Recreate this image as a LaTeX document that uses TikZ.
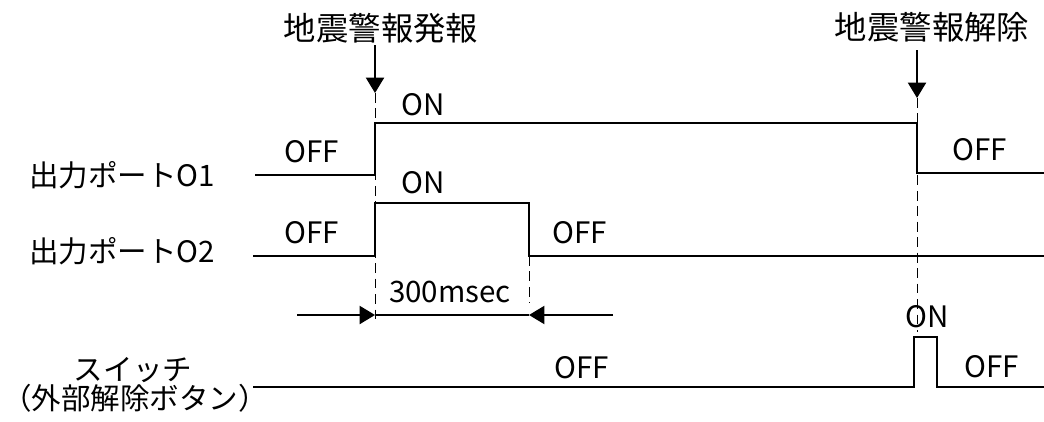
\documentclass[tikz,border=0pt]{standalone}
\usepackage{fontspec}
\setmainfont{Noto Sans CJK JP}
\usetikzlibrary{arrows.meta}

\begin{document}
\begin{tikzpicture}[x=0.025cm, y=-0.025cm, line width=1.1pt, lbl/.style={font=\fontsize{21}{24}\selectfont, inner sep=0pt}, ttl/.style={font=\fontsize{23}{26}\selectfont, inner sep=0pt}, guide/.style={dash pattern=on 7pt off 4pt, line width=0.6pt}, >={Triangle[length=11pt,width=13pt]}]
            \useasboundingbox (0,0) rectangle (1044,421);
            \node[ttl] (ev1) at (381,28) {地震警報発報};
            \node[ttl] (ev2) at (932,27) {地震警報解除};
            \node[lbl] (p1) at (122,175) {出力ポートO1};
            \node[lbl] (p2) at (122,251) {出力ポートO2};
            \node[lbl] (sw) at (133,370) {スイッチ};
            \node[lbl] (sw2) at (135,398) {（外部解除ボタン）};
            \node[lbl] (p1off) at (312,152) {OFF};
            \node[lbl] (p1on) at (423,105) {ON};
            \node[lbl] (p1off2) at (980,150) {OFF};
            \node[lbl] (p2on) at (423,183) {ON};
            \node[lbl] (p2off) at (312,233) {OFF};
            \node[lbl] (p2off2) at (580,233) {OFF};
            \node[lbl] (dur) at (450,292) {300msec};
            \node[lbl] (swon) at (927,317) {ON};
            \node[lbl] (swoff) at (582,368) {OFF};
            \node[lbl] (swoff2) at (992,367) {OFF};
            \coordinate (a1) at (375,45);
            \coordinate (a1t) at (375,93);
            \coordinate (a1b) at (375,325);
            \coordinate (a2) at (917,50);
            \coordinate (a2t) at (917,98);
            \coordinate (a2b) at (917,332);
            \coordinate (d0) at (529,256);
            \coordinate (d1) at (529,303);
            \coordinate (m0) at (297,315);
            \coordinate (m1) at (375,315);
            \coordinate (m2) at (529,315);
            \coordinate (m3) at (613,315);
            \draw[->] (a1) -- (a1t);
            \draw[->] (a2) -- (a2t);
            \draw[guide] (a1t) -- (a1b);
            \draw[guide] (a2t) -- (a2b);
            \draw[guide] (d0) -- (d1);
            \draw (255,175) -- (375,175) -- (375,123) -- (917,123) -- (917,173) -- (1044,173);
            \draw (253,256) -- (375,256) -- (375,203) -- (529,203) -- (d0) -- (1044,256);
            \draw (253,387) -- (914,387) -- (914,337) -- (937,337) -- (937,387) -- (1044,387);
            \draw[->] (m0) -- (m1);
            \draw[->] (m3) -- (m2);
            \draw (m1) -- (m2);
        \end{tikzpicture}
\end{document}
